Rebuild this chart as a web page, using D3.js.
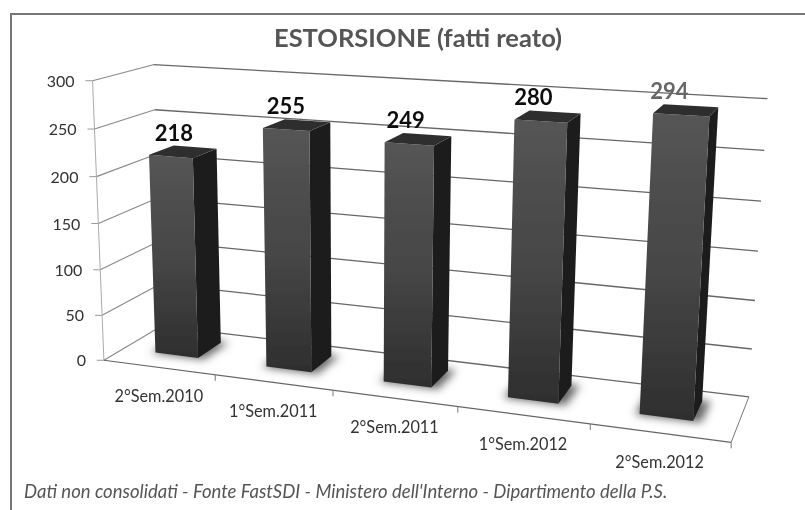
<!DOCTYPE html>
<html lang="it">
<head>
<meta charset="UTF-8">
<title>ESTORSIONE (fatti reato)</title>
<script src="https://d3js.org/d3.v7.min.js"></script>
<style>
    html, body { margin: 0; padding: 0; background: #fff; }
    svg { display: block; }
    text { font-family: Lato, "Open Sans", sans-serif; }
</style>
</head>
<body>
<svg width="805" height="510"></svg>
<script>
const categories = ["2°Sem.2010", "1°Sem.2011", "2°Sem.2011", "1°Sem.2012", "2°Sem.2012"];
const values = [218, 255, 249, 280, 294];
const valueTicks = [0, 50, 100, 150, 200, 250, 300];
const title = "ESTORSIONE (fatti reato)";
const source = "Dati non consolidati - Fonte FastSDI - Ministero dell'Interno - Dipartimento della P.S.";

const svg = d3.select("svg");

// scales work in a unit box: u along categories, d into the page, v up
const uScale = d3.scaleBand().domain(categories).range([-0.002, 0.998]).paddingInner(0.61).paddingOuter(0.305);
const uLabel = d3.scaleBand().domain(categories).range([0.006, 0.979]).paddingInner(0.61).paddingOuter(0.305);
const uTick = d3.scaleBand().domain(categories).range([0, 1]);
const vScale = d3.scaleLinear().domain([0, 300]).range([0, 1]);
const barFront = 0.33, barBack = 0.76;

// picture of the box: [u, d, v, x, y]
const calib = [
    [0, 0, 0, 108, 358], [0, 0, 1, 90, 81], [0, 0, 0.5, 97, 222],
    [0, 1, 0, 158, 328], [0, 1, 1, 157, 63], [0, 1, 0.5, 157, 201],
    [1, 1, 0, 750, 393], [1, 1, 1, 767, 100], [1, 1, 0.5, 758, 250],
    [1, 0, 0, 731, 443],
    [0.2, 0, 0, 216, 373], [0.4, 0, 0, 333, 391], [0.6, 0, 0, 457, 408], [0.8, 0, 0, 590, 427]
];

// least squares fit of the projection
function fitProjection(pts) {
    const A = [], b = [];
    pts.forEach(([u, d, v, x, y]) => {
        A.push([u, d, v, 1, 0, 0, 0, 0, -x * u, -x * d, -x * v]); b.push(x);
        A.push([0, 0, 0, 0, u, d, v, 1, -y * u, -y * d, -y * v]); b.push(y);
    });
    const n = 11;
    const M = d3.range(n).map(i => {
        const row = d3.range(n).map(j => d3.sum(A, r => r[i] * r[j]));
        row.push(d3.sum(A, (r, k) => r[i] * b[k]));
        return row;
    });
    for (let i = 0; i < n; i++) {
        let best = i;
        for (let r = i + 1; r < n; r++) if (Math.abs(M[r][i]) > Math.abs(M[best][i])) best = r;
        [M[i], M[best]] = [M[best], M[i]];
        for (let r = 0; r < n; r++) {
            if (r === i) continue;
            const f = M[r][i] / M[i][i];
            for (let c = i; c <= n; c++) M[r][c] -= f * M[i][c];
        }
    }
    return M.map((row, i) => row[n] / row[i]);
}

const p = fitProjection(calib);
function project(u, d, v) {
    const w = p[8] * u + p[9] * d + p[10] * v + 1;
    return [(p[0] * u + p[1] * d + p[2] * v + p[3]) / w, (p[4] * u + p[5] * d + p[6] * v + p[7]) / w];
}
const poly = pts => d3.line()(pts) + "Z";

const defs = svg.append("defs");
defs.append("filter").attr("id", "shadow").attr("x", "-30%").attr("y", "-30%").attr("width", "160%").attr("height", "160%")
    .append("feGaussianBlur").attr("stdDeviation", 4.5);
defs.append("filter").attr("id", "scan").attr("x", 0).attr("y", 0).attr("width", "100%").attr("height", "100%")
    .append("feGaussianBlur").attr("stdDeviation", 0.55);
const grad = defs.append("linearGradient").attr("id", "front").attr("x1", 0).attr("y1", 0).attr("x2", 0).attr("y2", 1);
grad.append("stop").attr("offset", "0%").attr("stop-color", "#555");
grad.append("stop").attr("offset", "55%").attr("stop-color", "#454545");
grad.append("stop").attr("offset", "100%").attr("stop-color", "#2e2e2e");

const page = svg.append("g").attr("filter", "url(#scan)");
page.append("rect").attr("width", 805).attr("height", 510).attr("fill", "#fff");

// frame, only top and left survive in the scan
page.append("path").attr("d", "M805,14H11V510").attr("fill", "none").attr("stroke", "#777").attr("stroke-width", 2);

page.append("text").attr("x", 418).attr("y", 47).attr("text-anchor", "middle")
    .attr("font-size", 25.5).attr("font-weight", 700).attr("fill", "#555").text(title);

// grid on the two walls
const grid = page.append("g").attr("fill", "none");
valueTicks.forEach(t => {
    const v = vScale(t);
    grid.append("path").attr("d", d3.line()([project(0, 0, v), project(0, 1, v)])).attr("stroke", "#888").attr("stroke-width", 1.1);
    grid.append("path").attr("d", d3.line()([project(0, 1, v), project(1, 1, v)])).attr("stroke", "#666").attr("stroke-width", 1.3);
    const [x, y] = project(0, 0, v);
    grid.append("path").attr("d", `M${x - 7},${y}H${x}`).attr("stroke", "#999");
    page.append("text").attr("x", x - 18).attr("y", y + 6).attr("text-anchor", "end")
        .attr("font-size", 16).attr("fill", "#333").text(t);
});
grid.append("path").attr("d", d3.line()([project(0, 0, 0), project(0, 0, 1)])).attr("stroke", "#aaa");

// floor edges and category ticks
grid.append("path").attr("d", d3.line()([project(0, 0, 0), project(1, 0, 0)])).attr("stroke", "#666").attr("stroke-width", 1.2);
grid.append("path").attr("d", d3.line()([project(1, 0, 0), project(1, 1, 0)])).attr("stroke", "#777");
d3.range(1, 6).forEach(i => {
    const [x, y] = project(i / 5, 0, 0);
    grid.append("path").attr("d", `M${x},${y}v6`).attr("stroke", "#777");
});

categories.forEach(c => {
    const [x, y] = project(uTick(c) + uTick.bandwidth() / 2, 0, 0);
    page.append("text").attr("x", x).attr("y", y + 35).attr("text-anchor", "middle")
        .attr("font-size", 16.3).attr("fill", "#333").text(c);
});

// soft shadow on the floor
page.append("g").attr("filter", "url(#shadow)").selectAll("path").data(categories).join("path")
    .attr("fill", "#666")
    .attr("d", c => {
        const u0 = uScale(c) - 0.006, u1 = uScale(c) + uScale.bandwidth() + 0.012;
        return poly([project(u0, barFront - 0.02, 0), project(u1, barFront - 0.02, 0),
                     project(u1, barBack + 0.03, 0), project(u0, barBack + 0.03, 0)]);
    });

// bars
categories.forEach((c, i) => {
    const u0 = uScale(c), u1 = u0 + uScale.bandwidth();
    const v = vScale(values[i]);
    const g = page.append("g");
    g.append("path").attr("fill", "#1f1f1f")
        .attr("d", poly([project(u1, barFront, 0), project(u1, barBack, 0), project(u1, barBack, v), project(u1, barFront, v)]));
    g.append("path").attr("fill", "url(#front)")
        .attr("d", poly([project(u0, barFront, 0), project(u1, barFront, 0), project(u1, barFront, v), project(u0, barFront, v)]));
    g.append("path").attr("fill", "#2f2f2f")
        .attr("d", poly([project(u0, barFront, v), project(u1, barFront, v), project(u1, barBack, v), project(u0, barBack, v)]));
    const uMid = uLabel(c) + uLabel.bandwidth() / 2;
    const x = project(uMid, barFront, v)[0];
    const y = project(uMid, barBack, v)[1];
    page.append("text").attr("x", x).attr("y", y - 6.5).attr("text-anchor", "middle")
        .attr("font-size", 22).attr("font-weight", 700)
        .attr("fill", values[i] === 294 ? "#666" : "#111").text(values[i]);
});

page.append("text").attr("x", 24).attr("y", 498).attr("font-size", 18.5).attr("font-style", "italic")
    .attr("fill", "#555").text(source);
</script>
</body>
</html>
